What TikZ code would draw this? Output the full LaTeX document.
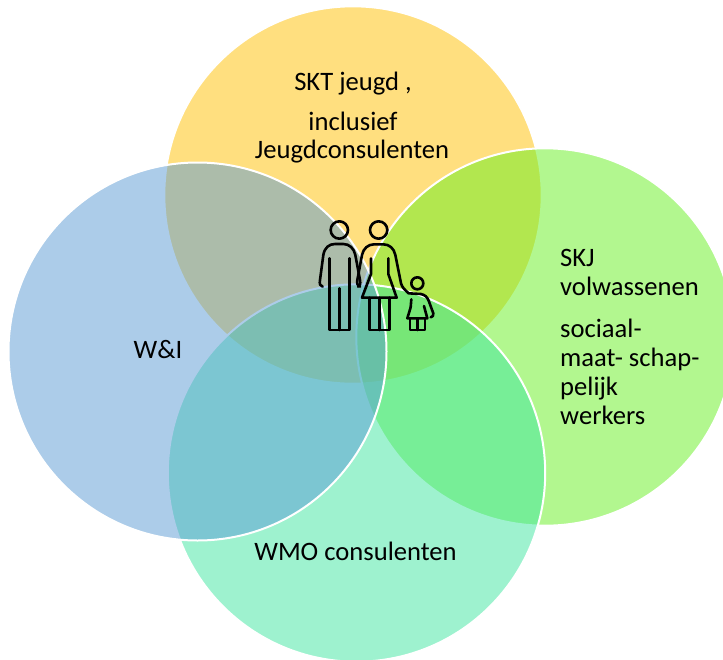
\documentclass[tikz,border=0pt]{standalone}
\usepackage{fontspec}
\setmainfont{Carlito}
\definecolor{cyellow}{RGB}{255,192,0}
\definecolor{cgreen}{RGB}{102,240,32}
\definecolor{cblue}{RGB}{91,155,213}
\definecolor{cteal}{RGB}{62,230,160}
\tikzset{
  disc/.style={fill=#1,fill opacity=0.5,draw=white,line width=2pt},
  lbl/.style={text=black,font=\fontsize{26.6}{30}\selectfont,inner sep=0pt,anchor=base},
  lbll/.style={lbl,anchor=base west},
  fig/.style={draw=black,line width=2.6pt,line join=round,line cap=round,fill=none}
}
\begin{document}
\begin{tikzpicture}[x=1pt,y=-1pt]
\useasboundingbox (0,0) rectangle (723,659);
\fill[white] (0,0) rectangle (723,659);
\begin{scope}
\clip (0,0) rectangle (723,659);
\path[disc=cyellow] (353,195) circle[radius=188.7];
\path[disc=cgreen] (545,337) circle[radius=188.7];
\path[disc=cteal] (356.5,473) circle[radius=188.7];
\path[disc=cblue] (197.5,351.5) circle[radius=189];
\end{scope}
\node[lbl] (skt) at (353,90) {SKT jeugd ,};
\node[lbl] (incl) at (353,130) {inclusief};
\node[lbl] (jc) at (352,158) {Jeugdconsulenten};
\node[lbl] (wi) at (158,358) {W\&I};
\node[lbl] (wmo) at (355.5,560) {WMO consulenten};
\node[lbll] (skj) at (560,266) {SKJ};
\node[lbll] (vol) at (560,295) {volwassenen};
\node[lbll] (soc) at (560,337) {sociaal-};
\node[lbll] (maat) at (560,366) {maat- schap-};
\node[lbll] (pel) at (560,395) {pelijk};
\node[lbll] (wer) at (560,424) {werkers};
\begin{scope}[shift={(300,200)},x=0.3333pt,y=-0.3333pt,fig]
% man
\draw[fig] (118,90) circle[radius=26];
\draw[fig] (68,260) .. controls (60,258) and (58,252) .. (60,240) -- (70,165) .. controls (74,142) and (88,132) .. (105,132) -- (130,132) .. controls (148,132) and (162,145) .. (166,165) -- (180,240) .. controls (182,252) and (180,258) .. (174,260);
\draw[fig] (88,175) -- (88,390) -- (148,390) -- (148,175);
\draw[fig] (118,265) -- (118,390);
% woman
\draw[fig] (236,90) circle[radius=26];
\draw[fig] (180,260) .. controls (173,258) and (170,250) .. (172,240) -- (186,165) .. controls (190,145) and (205,133) .. (222,133) -- (250,133) .. controls (268,133) and (282,145) .. (286,165) -- (303,250) .. controls (306,262) and (315,270) .. (326,280) -- (362,282) .. controls (375,284) and (382,292) .. (386,302) -- (400,340) .. controls (401,347) and (398,351) .. (392,352);
\draw[fig] (213,175) -- (213,222) -- (186,293) -- (290,293) -- (265,222) -- (265,175);
\draw[fig] (208,293) -- (208,390) -- (268,390) -- (268,293);
\draw[fig] (238,293) -- (238,390);
% child
\draw[fig] (352,250) circle[radius=18];
\draw[fig] (334,298) -- (332,322) -- (322,355) -- (382,355) -- (372,318);
\draw[fig] (330,355) -- (330,390) -- (375,390) -- (375,355);
\draw[fig] (352,355) -- (352,390);
\end{scope}
\end{tikzpicture}
\end{document}
